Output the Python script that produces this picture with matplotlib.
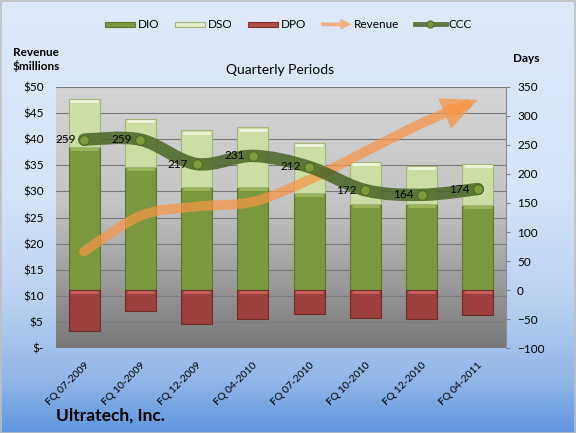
import numpy as np
import matplotlib
matplotlib.use('Agg')
import matplotlib.pyplot as plt
import matplotlib.transforms as mtransforms
from matplotlib.path import Path
from matplotlib.patches import PathPatch, FancyArrowPatch, Rectangle, FancyArrow, Patch
from matplotlib.legend_handler import HandlerPatch
from matplotlib.lines import Line2D

# ---------------- data ----------------
periods = ["FQ 07-2009", "FQ 10-2009", "FQ 12-2009", "FQ 04-2010",
           "FQ 07-2010", "FQ 10-2010", "FQ 12-2010", "FQ 04-2011"]
dio = [247, 212, 177, 177, 167, 148, 148, 146]
dso = [82, 82, 98, 103, 86, 72, 66, 71]
dpo = [70, 35, 58, 49, 41, 48, 50, 43]
ccc = [259, 259, 217, 231, 212, 172, 164, 174]
revenue = [18.5, 25.3, 27.1, 28.0, 32.2, 37.6, 43.0, 47.5]
rev_ticks = [0, 5, 10, 15, 20, 25, 30, 35, 40, 45, 50]
rev_labels = ["$-", "$5", "$10", "$15", "$20", "$25", "$30", "$35", "$40", "$45", "$50"]
day_ticks = [-100, -50, 0, 50, 100, 150, 200, 250, 300, 350]

plt.rcParams['font.family'] = ['Lato', 'DejaVu Sans']

W, H = 576, 433
fig = plt.figure(figsize=(W / 100, H / 100), dpi=100)


def vgrad(stops, n=256):
    t = np.linspace(0, 1, n)
    pos = [s[0] for s in stops]
    cols = np.array([s[1] for s in stops], dtype=float) / 255.0
    img = np.stack([np.interp(t, pos, cols[:, k]) for k in range(3)], axis=-1)
    return img[:, None, :]


# figure background gradient
bg = fig.add_axes([0, 0, 1, 1], zorder=-10)
bg.axis('off')
bg.imshow(vgrad([(0.0, (222, 233, 250)), (0.45, (214, 228, 248)),
                 (0.7, (185, 208, 240)), (0.88, (145, 182, 232)),
                 (1.0, (95, 150, 222))]),
          aspect='auto', extent=[0, 1, 0, 1], interpolation='bilinear')
fig.add_artist(Rectangle((0.001, 0.001), 0.997, 0.997, transform=fig.transFigure,
                         fill=False, edgecolor='#bfbfbf', lw=1.2))

# plot area
x0, x1, ytop, ybot = 56, 506, 86.7, 348.3
pos = [x0 / W, 1 - ybot / H, (x1 - x0) / W, (ybot - ytop) / H]
pbg = fig.add_axes(pos, zorder=0)
pbg.axis('off')
pbg.imshow(vgrad([(0.0, (212, 212, 212)), (0.45, (196, 196, 196)),
                  (1.0, (120, 120, 120))]),
           aspect='auto', extent=[0, 1, 0, 1], interpolation='bilinear')

axr = fig.add_axes(pos, zorder=1)
axr.patch.set_alpha(0)
axd = axr.twinx()

x = np.arange(len(periods))
axr.set_xlim(-0.5, len(periods) - 0.5)
axr.set_ylim(0, 50)
axd.set_ylim(-100, 350)

# grid (revenue axis)
axr.set_yticks(rev_ticks)
axr.set_yticklabels(rev_labels)
axr.yaxis.grid(True, color='#7a7a7a', lw=0.8)
axr.tick_params(axis='y', length=0, pad=9, labelsize=8.5)
axr.set_xticks(x)
axr.set_xticklabels(periods, rotation=45, ha='right', rotation_mode='anchor', fontsize=7.5)
axr.tick_params(axis='x', length=0, pad=9)
for s in axr.spines.values():
    s.set_visible(False)

axd.set_yticks(day_ticks)
axd.tick_params(axis='y', length=3, width=0.8, color='#808080', pad=5, labelsize=8.5, direction='out')
for k, s in axd.spines.items():
    s.set_visible(k == 'right')
axd.spines['right'].set_color('#8c8c8c')

# bars
bw = 0.55
neg_dpo = [-v for v in dpo]
tops_dso = [a + b for a, b in zip(dio, dso)]
axd.bar(x, dio, width=bw, color='#7C983E', edgecolor='#5E7530', lw=0.8, zorder=2)
axd.bar(x, dso, bottom=dio, width=bw, color='#CDDEA5', edgecolor='#A3B878', lw=0.8, zorder=2)
axd.bar(x, neg_dpo, width=bw, color='#9B403E', edgecolor='#6E2C2A', lw=0.8, zorder=2)

# bevel highlights along top edges
hl = mtransforms.offset_copy(axd.transData, fig=fig, y=-2.2, units='dots')
axd.hlines(tops_dso, x - bw / 2 + 0.03, x + bw / 2 - 0.03, colors='#EEF4DC', lw=2.0, transform=hl, zorder=2.1)
axd.hlines(dio, x - bw / 2 + 0.03, x + bw / 2 - 0.03, colors='#9CB65C', lw=2.0, transform=hl, zorder=2.1)
axd.hlines([0] * len(x), x - bw / 2 + 0.03, x + bw / 2 - 0.03, colors='#C8605C', lw=2.0, transform=hl, zorder=2.1)


def smooth_path(xs, ys):
    P = np.column_stack([xs, ys]).astype(float)
    n = len(P)
    verts = [P[0]]
    codes = [Path.MOVETO]
    for i in range(n - 1):
        p0 = P[i - 1] if i > 0 else P[i]
        p3 = P[i + 2] if i + 2 < n else P[i + 1]
        c1 = P[i] + (P[i + 1] - p0) / 6.0
        c2 = P[i + 1] - (p3 - P[i]) / 6.0
        verts += [c1, c2, P[i + 1]]
        codes += [Path.CURVE4] * 3
    return Path(np.array(verts), codes)


# revenue arrow (left axis scale, drawn above bars)
orange = '#F79646'
arr = FancyArrowPatch(path=smooth_path(x, revenue),
                      arrowstyle='-|>,head_length=0.7,head_width=0.32',
                      mutation_scale=20, lw=7, color=orange, alpha=0.72,
                      transform=axr.transData, zorder=3, joinstyle='miter',
                      capstyle='round')
axd.add_patch(arr)

# CCC smooth band
cccband = PathPatch(smooth_path(x, ccc), fill=False, lw=9, edgecolor='#4A6424',
                    alpha=0.85, capstyle='round', zorder=4)
axd.add_patch(cccband)
axd.plot(x, ccc, 'o', ms=7, mfc='#7E9C3A', mec='#4F6A22', mew=0.8, zorder=5)
for xi, v in zip(x, ccc):
    axd.annotate(str(v), (xi, v), xytext=(-6, 0), textcoords='offset points',
                 ha='right', va='center', fontsize=8.5, color='black', zorder=6)

# texts
fig.text(36 / W, 1 - 52 / H, "Revenue", ha='center', va='center', fontsize=8.5, fontweight='bold')
fig.text(36 / W, 1 - 66 / H, "$millions", ha='center', va='center', fontsize=8.5, fontweight='bold')
fig.text(526 / W, 1 - 58 / H, "Days", ha='center', va='center', fontsize=8.5, fontweight='bold')
fig.text(280 / W, 1 - 70 / H, "Quarterly Periods", ha='center', va='center', fontsize=10)
fig.text(56 / W, 1 - 416 / H, "Ultratech, Inc.", ha='left', va='center', fontsize=12.5, fontweight='bold')


# legend
def thin_rect(legend, orig_handle, xdescent, ydescent, width, height, fontsize):
    return Rectangle((-xdescent, -ydescent + height * 0.22), width, height * 0.56)


def arrow_patch(legend, orig_handle, xdescent, ydescent, width, height, fontsize):
    return FancyArrow(-xdescent, -ydescent + height / 2, width, 0, width=height * 0.45,
                      head_width=height * 1.3, head_length=width * 0.38,
                      length_includes_head=True)


h_dio = Patch(facecolor='#7C983E', edgecolor='#5E7530', lw=0.8)
h_dso = Patch(facecolor='#E4EDD0', edgecolor='#A3B878', lw=0.8)
h_dpo = Patch(facecolor='#B04C49', edgecolor='#7E3331', lw=0.8)
h_rev = Patch(facecolor='#F0B080', edgecolor='none')
h_ccc = Line2D([], [], color='#4A6424', lw=3.5, alpha=0.85, marker='o', ms=5,
               mfc='#7E9C3A', mec='#4F6A22')
rect_h = HandlerPatch(patch_func=thin_rect)
fig.legend([h_dio, h_dso, h_dpo, h_rev, h_ccc], ["DIO", "DSO", "DPO", "Revenue", "CCC"],
           loc='center', bbox_to_anchor=(0.5, 1 - 25 / H), ncol=5, frameon=False,
           fontsize=8.5, handlelength=2.6, handletextpad=0.2, columnspacing=1.3,
           handler_map={h_dio: rect_h, h_dso: rect_h, h_dpo: rect_h,
                        h_rev: HandlerPatch(patch_func=arrow_patch)})

fig.savefig('out.png', dpi=100)
